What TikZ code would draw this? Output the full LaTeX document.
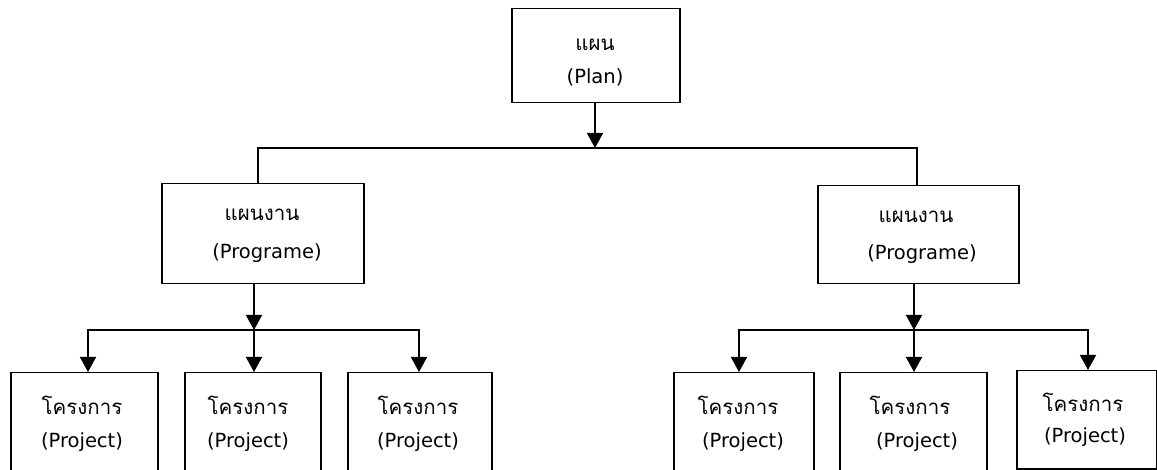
\documentclass[tikz,border=0pt]{standalone}
\usepackage{fontspec}
\setmainfont{DejaVu Sans}
\newfontfamily\thaifont[Script=Thai]{Loma}
\usetikzlibrary{arrows.meta}
\begin{document}
\begin{tikzpicture}[x=1pt,y=-1pt,
  box/.style={draw,line width=1.5pt,rectangle,inner sep=0pt,anchor=north west},
  th/.style={font=\thaifont\fontsize{20.5}{24}\selectfont,inner sep=0pt},
  en/.style={font=\fontsize{19.5}{23}\selectfont,inner sep=0pt},
  conn/.style={line width=1.6pt},
  arr/.style={line width=1.6pt,-{Triangle[width=16pt,length=15pt]}}]
\useasboundingbox (0,0) rectangle (1157,470);
% boxes
\node[box,minimum width=168pt,minimum height=94pt] (plan) at (511,8) {};
\node[box,minimum width=202pt,minimum height=100pt] (prog1) at (161,183) {};
\node[box,minimum width=201pt,minimum height=98pt] (prog2) at (817,185) {};
\node[box,minimum width=147pt,minimum height=110pt] (p1) at (10,372) {};
\node[box,minimum width=136pt,minimum height=110pt] (p2) at (184,372) {};
\node[box,minimum width=144pt,minimum height=110pt] (p3) at (347,372) {};
\node[box,minimum width=140pt,minimum height=110pt] (p4) at (673,372) {};
\node[box,minimum width=147pt,minimum height=110pt] (p5) at (839,372) {};
\node[box,minimum width=140pt,minimum height=98pt] (p6) at (1016,370) {};
% texts
\node[th] (t0a) at (595,45) {แผน};
\node[en] (t0b) at (595,77) {(Plan)};
\node[th] (t1a) at (262,215) {แผนงาน};
\node[en] (t1b) at (267,253) {(Programe)};
\node[th] (t2a) at (916,217) {แผนงาน};
\node[en] (t2b) at (922,254) {(Programe)};
\node[th] (q1a) at (82,405) {โครงการ};
\node[en] (q1b) at (82,442) {(Project)};
\node[th] (q2a) at (248,405) {โครงการ};
\node[en] (q2b) at (248,442) {(Project)};
\node[th] (q3a) at (418,405) {โครงการ};
\node[en] (q3b) at (418,442) {(Project)};
\node[th] (q4a) at (738,405) {โครงการ};
\node[en] (q4b) at (743,442) {(Project)};
\node[th] (q5a) at (910,405) {โครงการ};
\node[en] (q5b) at (917,442) {(Project)};
\node[th] (q6a) at (1083,402) {โครงการ};
\node[en] (q6b) at (1085,437) {(Project)};
% junctions
\coordinate (j0) at (595,148);
\coordinate (j1) at (254,330);
\coordinate (j2) at (914,330);
% connectors
\draw[arr] (plan.south -| j0) -- (j0);
\draw[conn] ([xshift=-5pt]prog1.north) |- (j0) -| ([xshift=-1pt]prog2.north);
\draw[arr] (prog1.south -| j1) -- (j1);
\draw[arr] (prog2.south -| j2) -- (j2);
\draw[arr] (j1) -| (p1.north -| 88,0);
\draw[arr] (j1) -- (p2.north -| j1);
\draw[arr] (j1) -| (p3.north -| 419,0);
\draw[arr] (j2) -| (p4.north -| 739,0);
\draw[arr] (j2) -- (p5.north -| j2);
\draw[arr] (j2) -| (p6.north -| 1088,0);
\end{tikzpicture}
\end{document}
